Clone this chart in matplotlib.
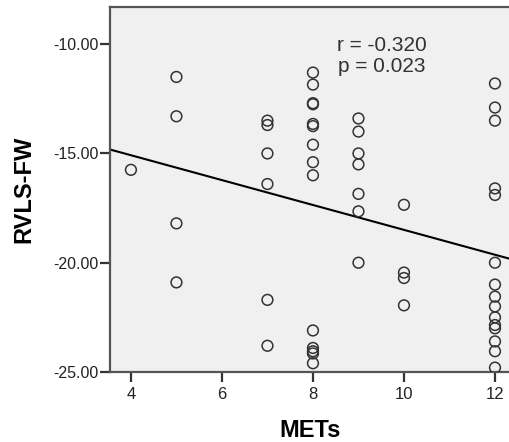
import numpy as np
import matplotlib
matplotlib.use("Agg")
import matplotlib.pyplot as plt

plt.rcParams['font.family'] = ['Liberation Sans', 'DejaVu Sans']

# METs (x) and RVLS-FW (y), column by column
mets_4 = [4]
rvls_4 = [-15.75]
mets_5 = [5, 5, 5, 5]
rvls_5 = [-11.5, -13.3, -18.2, -20.9]
mets_7 = [7, 7, 7, 7, 7, 7]
rvls_7 = [-13.5, -13.7, -15.0, -16.4, -21.7, -23.8]
mets_8 = [8] * 14
rvls_8 = [-11.3, -11.85, -12.7, -12.75, -13.65, -13.75, -14.6, -15.4, -16.0,
          -23.1, -23.9, -24.05, -24.15, -24.6]
mets_9 = [9] * 7
rvls_9 = [-13.4, -14.0, -15.0, -15.5, -16.85, -17.65, -20.0]
mets_10 = [10] * 4
rvls_10 = [-17.35, -20.45, -20.7, -21.95]
mets_12 = [12] * 15
rvls_12 = [-11.8, -12.9, -13.5, -16.6, -16.9, -20.0, -21.0, -21.55, -22.0,
           -22.5, -22.85, -23.0, -23.6, -24.05, -24.8]

x_ticks = [4, 6, 8, 10, 12]
y_ticks = [-25, -20, -15, -10]
stats_text = "r = -0.320\np = 0.023"


def main():
    x = np.array(mets_4 + mets_5 + mets_7 + mets_8 + mets_9 + mets_10 + mets_12, dtype=float)
    y = np.array(rvls_4 + rvls_5 + rvls_7 + rvls_8 + rvls_9 + rvls_10 + rvls_12)

    fig = plt.figure(figsize=(5.1, 4.42), dpi=100)
    ax = fig.add_axes([110 / 510, 1 - 372 / 442, 400 / 510, 365 / 442])
    ax.set_facecolor('#f0f0f0')

    ax.scatter(x, y, s=60, facecolors='none', edgecolors='#333333', linewidths=1.1, zorder=3)

    # least squares fit line across the whole axis
    m, c = np.polyfit(x, y, 1)
    xl = np.array([3.54, 12.33])
    ax.plot(xl, m * xl + c, color='black', lw=1.5, zorder=2)

    ax.set_xlim(3.54, 12.33)
    ax.set_ylim(-25, -8.3)
    ax.set_xticks(x_ticks)
    ax.set_yticks(y_ticks)
    ax.set_yticklabels([f"{v:.2f}" for v in y_ticks])

    for side in ['left', 'bottom', 'top']:
        ax.spines[side].set_color('#555555')
        ax.spines[side].set_linewidth(1.6)
    ax.spines['right'].set_visible(False)
    ax.tick_params(length=7, width=1.6, color='#333333', labelcolor='#222222')
    ax.tick_params(axis='x', labelsize=12, pad=4)
    ax.tick_params(axis='y', labelsize=11.5, pad=1)

    ax.text(0.68, 0.92, stats_text, transform=ax.transAxes, ha='center', va='top',
            fontsize=15, color='#333333', linespacing=1.1)

    ax.set_xlabel('METs', fontsize=17, fontweight='bold', labelpad=12)
    ax.set_ylabel('RVLS-FW', fontsize=17, fontweight='bold', labelpad=13)

    fig.savefig('out.png', dpi=100)


if __name__ == "__main__":
    main()
